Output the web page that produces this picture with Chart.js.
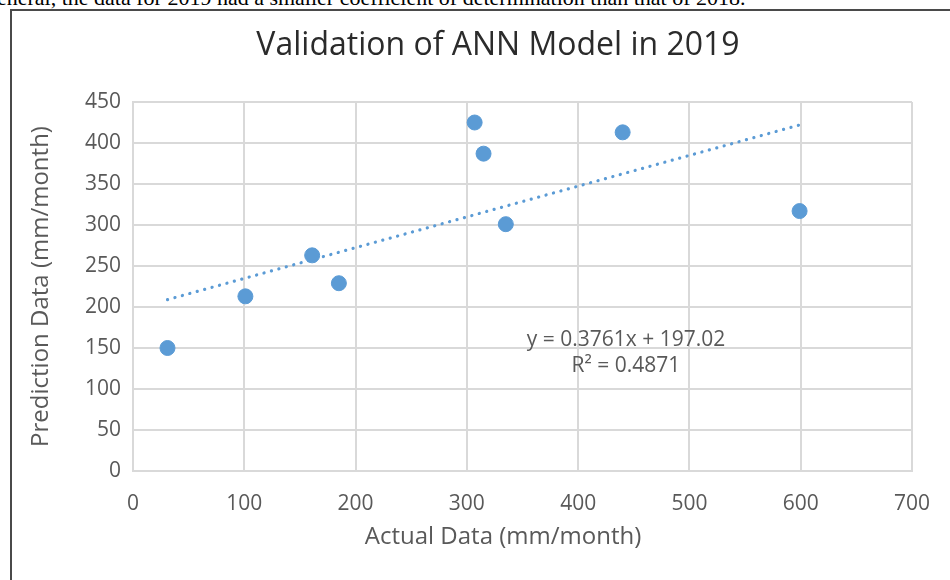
<!DOCTYPE html>
<html>
<head>
<meta charset="utf-8">
<script src="https://cdn.jsdelivr.net/npm/chart.js@4/dist/chart.umd.min.js"></script>
<style>
  html, body { margin: 0; padding: 0; background: #fff; overflow: hidden; }
  body { width: 950px; height: 580px; position: relative; }
  #chart { position: absolute; left: 0; top: 0; }
  #frame { position: absolute; left: 10px; top: 9px; width: 960px; height: 600px;
           border: 2px solid #4a4a4a; pointer-events: none; }
  #caption { position: absolute; left: -3px; top: -13px; white-space: nowrap;
             font: 22px/22px "Liberation Serif", "DejaVu Serif", serif; color: #000; }
</style>
</head>
<body>
<div id="caption">eneral, the data for 2019 had a smaller coefficient of determination than that of 2018.</div>
<div id="frame"></div>
<canvas id="chart" width="950" height="580"></canvas>
<script>
  // values
  const actual    = [31, 101, 161, 185, 307, 315, 335, 440, 599];
  const predicted = [150, 213, 263, 229, 425, 387, 301, 413, 317];
  // linear trend line, ends at first / last point
  const trendX = [31, 599];
  const trendY = [209, 422];

  const xTicks = [0, 100, 200, 300, 400, 500, 600, 700];
  const yTicks = [0, 50, 100, 150, 200, 250, 300, 350, 400, 450];

  const TITLE = 'Validation of ANN Model in 2019';
  const X_TITLE = 'Actual Data (mm/month)';
  const Y_TITLE = 'Prediction Data (mm/month)';
  const EQ_LINES = ['y = 0.3761x + 197.02', 'R\u00b2 = 0.4871'];

  const FONT = '"Open Sans", "Noto Sans", sans-serif';
  const BLUE = '#5b9bd5';
  const GRID = '#d9d9d9';
  const TXT = '#595959';

  // chart title, x-axis title and trendline label, Excel-style placement
  const labels = {
    id: 'labels',
    afterDraw(chart) {
      const ctx = chart.ctx;
      const x = chart.scales.x, y = chart.scales.y;
      ctx.save();
      ctx.textAlign = 'center';
      ctx.textBaseline = 'middle';
      ctx.fillStyle = '#2b2b2b';
      ctx.font = '32px ' + FONT;
      ctx.fillText(TITLE, 498, 46);
      ctx.fillStyle = TXT;
      ctx.font = '24px ' + FONT;
      ctx.fillText(X_TITLE, 503, 537);
      ctx.font = '21px ' + FONT;
      ctx.fillText(EQ_LINES[0], x.getPixelForValue(443), y.getPixelForValue(160));
      ctx.fillText(EQ_LINES[1], x.getPixelForValue(443), y.getPixelForValue(128));
      ctx.restore();
    }
  };

  new Chart(document.getElementById('chart'), {
    type: 'scatter',
    data: {
      datasets: [
        {
          label: 'Data',
          data: actual.map((v, i) => ({ x: v, y: predicted[i] })),
          backgroundColor: BLUE,
          borderColor: BLUE,
          pointRadius: 7.5,
          pointHoverRadius: 7.5,
          order: 0,
        },
        {
          label: 'Linear trend',
          type: 'line',
          data: trendX.map((v, i) => ({ x: v, y: trendY[i] })),
          borderColor: BLUE,
          borderWidth: 3.2,
          borderDash: [0.1, 7.6],
          borderCapStyle: 'round',
          pointRadius: 0,
          fill: false,
          order: 1,
        },
      ],
    },
    options: {
      responsive: false,
      animation: false,
      layout: { padding: { left: 0, right: 35, top: 102, bottom: 0 } },
      plugins: { legend: { display: false }, tooltip: { enabled: false } },
      scales: {
        x: {
          type: 'linear', min: 0, max: 700,
          afterBuildTicks: s => { s.ticks = xTicks.map(v => ({ value: v })); },
          ticks: { color: TXT, font: { family: FONT, size: 21 }, padding: 20 },
          grid: { color: GRID, lineWidth: 2, drawTicks: false },
          border: { color: GRID, width: 2 },
          afterFit: s => { s.height = 109; },
        },
        y: {
          type: 'linear', min: 0, max: 450,
          afterBuildTicks: s => { s.ticks = yTicks.map(v => ({ value: v })); },
          ticks: { color: TXT, font: { family: FONT, size: 21 }, padding: 12 },
          grid: { color: GRID, lineWidth: 2, drawTicks: false },
          border: { color: GRID, width: 2 },
          title: { display: true, text: Y_TITLE, color: TXT,
                   font: { family: FONT, size: 24 }, padding: { top: 27 } },
          afterFit: s => { s.width = 133; },
        },
      },
    },
    plugins: [labels],
  });
</script>
</body>
</html>
